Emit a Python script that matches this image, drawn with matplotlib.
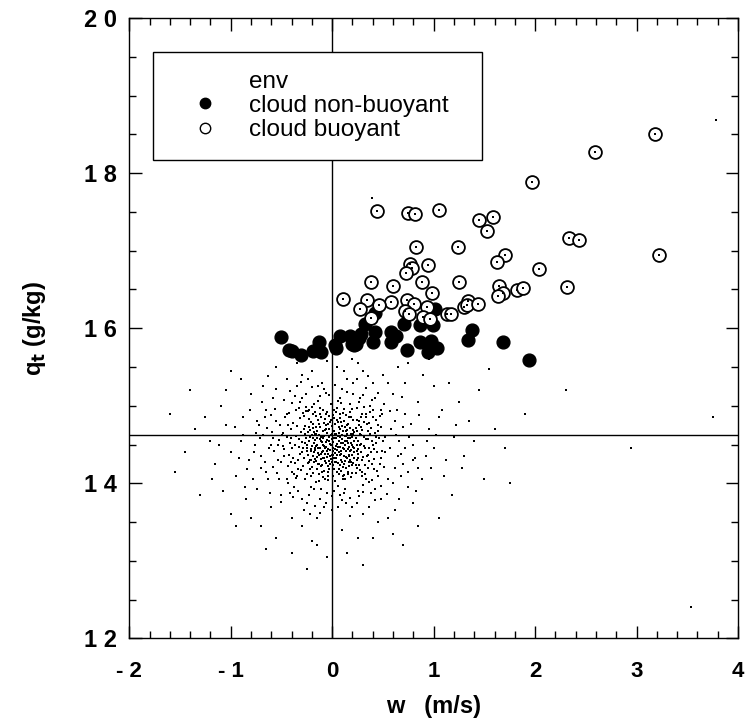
import matplotlib
matplotlib.use('Agg')
import matplotlib.pyplot as plt
from matplotlib.lines import Line2D
from matplotlib.ticker import MultipleLocator

plt.rcParams['font.family'] = ['Liberation Sans', 'DejaVu Sans']

# cloud points, non-buoyant (filled) : w (m/s), qt (g/kg)
nb_w = [-0.50, -0.43, -0.40, -0.31, -0.19, -0.13, -0.11, 0.03, 0.04, 0.08,
        0.18, 0.20, 0.23, 0.26, 0.22, 0.28, 0.32, 0.42, 0.42, 0.40,
        0.58, 0.63, 0.58, 0.71, 0.74, 0.87, 0.99, 0.87, 0.97, 0.94,
        1.03, 1.01, 1.38, 1.34, 1.68, 1.94]
nb_q = [15.89, 15.72, 15.71, 15.65, 15.71, 15.82, 15.69, 15.79, 15.74, 15.90,
        15.90, 15.80, 15.80, 15.87, 15.78, 15.93, 16.05, 16.20, 15.95, 15.82,
        15.95, 15.90, 15.82, 16.05, 15.72, 16.04, 16.04, 15.82, 15.83, 15.69,
        15.74, 16.25, 15.98, 15.85, 15.82, 15.59]

# cloud points, buoyant (open)
b_w = [3.18, 2.59, 1.97, 0.44, 0.75, 0.82, 1.05, 1.45, 1.59, 1.53,
       2.33, 2.43, 3.22, 0.83, 1.24, 0.77, 0.79, 0.94, 0.73, 1.70,
       1.62, 2.04, 0.38, 0.60, 0.89, 1.25, 0.98, 1.64, 1.68, 1.63,
       1.82, 1.88, 2.31, 0.11, 0.34, 0.58, 0.74, 0.81, 0.46, 0.27,
       0.38, 0.72, 0.76, 0.93, 0.90, 0.96, 1.13, 1.17, 1.30, 1.34,
       1.33, 1.44]
b_q = [18.51, 18.27, 17.89, 17.51, 17.49, 17.47, 17.53, 17.39, 17.44, 17.26,
       17.17, 17.14, 16.94, 17.05, 17.05, 16.83, 16.78, 16.82, 16.71, 16.94,
       16.86, 16.76, 16.60, 16.54, 16.60, 16.60, 16.46, 16.55, 16.45, 16.42,
       16.49, 16.52, 16.53, 16.38, 16.37, 16.34, 16.37, 16.31, 16.30, 16.25,
       16.13, 16.22, 16.18, 16.27, 16.15, 16.12, 16.18, 16.18, 16.28, 16.35,
       16.30, 16.31]

# environment points, "w,q" pairs
env_txt = """
-0.02,14.51 0.05,14.43 -0.11,14.60 0.13,14.55 -0.07,14.38 0.21,14.47 -0.18,14.52 0.02,14.68
0.09,14.30 -0.25,14.41 0.28,14.62 -0.04,14.22 0.16,14.77 -0.14,14.81 0.34,14.35 -0.31,14.66
0.07,14.12 -0.09,14.95 0.24,14.20 -0.22,14.18 0.39,14.55 -0.37,14.49 0.01,14.88 0.18,14.92
-0.28,14.87 0.11,14.05 -0.16,14.02 0.31,14.79 -0.41,14.28 0.44,14.40 -0.06,14.70 0.04,14.58
-0.12,14.46 0.08,14.36 0.15,14.64 -0.19,14.71 0.22,14.33 -0.03,14.29 0.27,14.50 -0.33,14.57
0.12,14.25 -0.08,14.16 0.35,14.68 -0.24,14.26 0.19,14.08 -0.45,14.60 0.47,14.25 -0.01,15.02
0.06,13.96 -0.20,14.99 0.26,15.05 -0.35,14.10 0.40,14.85 -0.15,14.34 0.03,14.44 0.10,14.74
-0.05,14.56 0.14,14.41 -0.27,14.74 0.32,14.12 0.00,14.36 -0.10,14.24 0.20,14.60 -0.30,14.40
0.36,14.45 -0.39,14.78 0.05,14.82 -0.17,14.63 0.23,14.71 -0.23,14.55 0.29,14.30 -0.13,14.12
0.09,14.52 -0.06,14.47 0.17,14.37 -0.01,14.62 0.12,14.96 -0.26,14.93 0.42,14.65 -0.43,14.37
0.30,13.98 -0.21,13.95 0.02,14.18 -0.36,14.95 0.37,15.00 0.08,15.10 -0.12,15.12 0.25,13.90
-0.05,13.88 0.16,14.15 -0.29,14.22 0.45,14.75 -0.48,14.48 0.50,14.55 0.33,14.90 -0.40,14.15
0.13,13.93 -0.32,15.05 0.21,15.15 -0.09,14.42 0.07,14.65 -0.15,14.50 0.11,14.45 0.04,14.32
-0.18,14.40 0.19,14.52 -0.04,14.77 0.24,14.82 -0.22,14.30 0.28,14.40 -0.11,14.85 0.01,14.10
0.35,14.20 -0.34,14.30 0.14,14.20 -0.07,14.06
-0.62,14.45 0.65,14.35 -0.55,14.80 0.58,14.70 -0.70,14.20 0.72,14.90 -0.52,14.05 0.55,14.05
-0.58,15.10 0.60,15.15 -0.35,15.25 0.40,15.30 -0.10,15.30 0.15,15.35 -0.25,13.75 0.20,13.70
-0.50,13.85 0.48,13.80 0.00,13.65 -0.15,13.55 0.30,13.60 -0.75,14.65 0.80,14.50 -0.82,14.30
0.85,14.20 -0.65,14.95 0.68,14.10 -0.45,15.35 0.50,15.40 -0.20,15.45 0.05,15.50 0.30,15.45
-0.60,13.70 0.62,13.65 -0.40,13.55 0.45,13.50 -0.90,14.55 0.95,14.70 -0.88,14.85 0.92,14.35
-0.78,14.05 0.75,13.95 -0.30,13.45 0.10,13.40 -0.68,15.25 0.72,15.30 0.25,15.55 -0.05,15.58
-0.48,14.65 0.52,14.60 -0.53,14.30 0.57,14.45 -0.45,14.90 0.48,14.95 -0.58,14.58 0.62,14.80
-0.38,13.95 0.42,13.92 -0.12,13.80 0.10,13.78 -0.72,14.75 0.70,14.25 1.00,14.45 -1.00,14.40
1.05,14.85 -0.95,14.10 0.85,15.05 -0.80,15.15 1.10,14.10 -1.05,14.75 0.65,15.50 0.90,15.40
1.20,14.60 -1.15,14.25 0.40,13.30 -0.20,13.25 0.80,13.75 -0.85,13.80 1.25,15.05 1.35,14.80
1.15,15.30 -0.55,15.50 -1.10,15.00 -1.20,14.55 0.60,13.35 -0.70,13.45
-1.35,14.70 -1.55,14.15 -1.30,13.85 -0.95,13.45 -0.40,13.10 0.15,13.10 0.70,13.20 1.30,14.35
1.45,15.20 1.50,14.05 1.75,14.00 1.55,15.47 0.39,17.68 3.54,12.40 3.78,18.68 3.75,14.85
2.95,14.45 1.90,14.90 -1.60,14.90 -0.25,12.90 1.05,13.55 -1.40,15.20 2.30,15.20 0.95,15.60
-0.38,14.12 -0.33,14.47 -0.29,14.91 -0.27,14.05 -0.26,14.58 -0.24,14.66 -0.23,14.83 -0.21,14.44
-0.20,14.21 -0.19,14.90 -0.18,14.27 -0.17,14.56 -0.16,14.73 -0.15,14.18 -0.14,14.39 -0.13,14.62
-0.12,14.97 -0.11,14.31 -0.10,14.53 -0.09,14.08 -0.08,14.78 -0.07,14.45 -0.06,14.26 -0.05,14.65
-0.04,14.14 -0.03,14.87 -0.02,14.35 -0.01,14.49 0.00,14.74 0.01,14.23 0.02,14.58 0.03,14.03
0.04,14.92 0.05,14.37 0.06,14.61 0.07,14.19 0.08,14.84 0.09,14.42 0.10,14.28 0.11,14.67
0.12,14.11 0.13,14.50 0.14,14.88 0.15,14.33 0.16,14.59 0.17,14.22 0.18,14.71 0.19,14.43
0.20,14.96 0.21,14.26 0.22,14.54 0.23,14.13 0.24,14.68 0.25,14.38 0.26,14.80 0.27,14.17
0.28,14.51 0.29,14.89 0.30,14.34 0.31,14.60 0.32,14.45 0.33,14.06 0.34,14.76 0.36,14.29
0.37,14.63 0.38,14.40 0.40,14.94 0.41,14.18 0.43,14.52 -0.41,14.70 -0.42,14.52 -0.44,14.22
-0.46,14.85 -0.47,14.35 -0.49,14.62
-0.36,14.61 -0.34,14.19 -0.32,14.84 -0.30,14.53 -0.28,14.33 -0.26,14.99 -0.25,14.46 -0.22,14.69
-0.21,14.09 -0.19,14.35 -0.17,14.92 -0.16,14.48 -0.14,14.25 -0.13,14.76 -0.12,14.57 -0.10,14.14
-0.09,14.67 -0.08,14.32 -0.06,14.89 -0.05,14.41 -0.04,14.04 -0.03,14.55 -0.02,14.79 0.00,14.27
0.01,14.41 0.02,14.94 0.03,14.63 0.05,14.15 0.06,14.47 0.07,14.73 0.08,14.24 0.10,14.57
0.11,14.91 0.12,14.35 0.13,14.06 0.15,14.69 0.16,14.44 0.17,14.85 0.18,14.30 0.20,14.13
0.21,14.64 0.22,14.40 0.24,14.97 0.25,14.55 0.26,14.23 0.28,14.72 0.29,14.09 0.31,14.48
0.33,14.86 0.35,14.57 0.36,14.02 0.38,14.71 0.39,14.25 0.41,14.44 0.43,14.81 0.45,14.10
0.46,14.58 0.48,14.33 0.49,14.90 -0.50,14.27 -0.51,14.75 -0.53,14.50 -0.54,14.13 -0.56,14.96
-0.57,14.41 -0.59,14.66
-0.24,14.37 -0.22,14.60 -0.20,14.48 -0.18,14.66 -0.17,14.31 -0.15,14.58 -0.14,14.45 -0.12,14.72
-0.11,14.22 -0.10,14.40 -0.08,14.61 -0.07,14.29 -0.06,14.53 -0.04,14.44 -0.03,14.70 -0.02,14.25
0.00,14.57 0.01,14.46 0.02,14.33 0.04,14.64 0.05,14.51 0.06,14.26 0.08,14.70 0.09,14.38
0.10,14.62 0.12,14.44 0.13,14.29 0.14,14.68 0.16,14.52 0.17,14.35 0.19,14.63 0.20,14.24
0.22,14.46 0.23,14.58 0.25,14.33 -0.23,14.27 -0.19,14.77 -0.13,14.36 -0.09,14.50 -0.05,14.34
-0.01,14.81 0.03,14.39 0.07,14.55 0.11,14.21 0.15,14.75 0.18,14.41 0.21,14.69 0.24,14.50
-0.16,14.64 -0.06,14.75 0.04,14.48 0.14,14.34 -0.21,14.41 0.09,14.79 -0.11,14.55 0.19,14.27
-0.88,14.62 -0.84,14.18 -0.81,14.95 -0.77,14.40 -0.74,13.92 -0.71,14.58 -0.69,15.05 -0.66,14.27
-0.64,14.71 -0.61,13.88 -0.60,14.88 -0.58,14.21 -0.55,15.22 -0.52,14.56 -0.50,13.76 -0.47,15.08
-0.44,14.00 -0.42,15.19 -0.39,13.82 -0.37,15.12 -0.34,13.90 -0.31,15.31 -0.28,13.66 -0.26,15.15
-0.23,13.85 -0.20,15.24 -0.17,13.71 -0.14,15.06 -0.11,13.93 -0.08,15.21 -0.06,13.74 -0.03,15.14
0.00,13.84 0.03,15.27 0.06,13.69 0.09,15.04 0.12,13.87 0.15,15.18 0.18,13.81 0.21,15.29
0.24,13.75 0.27,15.10 0.30,13.89 0.33,15.23 0.36,13.70 0.39,15.07 0.42,13.78 0.45,15.17
0.48,13.96 0.51,15.02 0.54,13.86 0.57,14.93 0.60,14.00 0.63,14.62 0.66,13.80 0.69,15.11
0.72,14.46 0.75,14.15 0.78,14.77 0.82,14.33 0.86,14.88 0.89,14.05 0.93,14.55 -0.92,14.33
-0.96,14.73 0.97,14.20 1.02,14.62 -0.86,13.95 0.83,13.90 -0.63,15.38 0.55,15.30 0.35,15.38
-0.30,15.40 0.12,15.45
-1.25,14.85 -1.18,14.05 -1.12,14.50 -1.08,13.90 -1.05,15.20 -1.00,13.60 1.08,14.95 1.12,14.30
1.18,13.85 1.22,14.75 1.28,14.20 1.40,14.55 1.60,14.70 -0.80,13.55 -0.55,13.30 -0.15,13.20
0.25,13.30 0.55,13.55 0.85,13.45 -0.90,15.35 -0.35,15.55 0.20,15.60 0.75,15.55 1.00,15.25
-1.45,14.40 1.70,14.45 -0.65,13.15 0.30,12.95 -1.00,15.45 -0.05,13.05
-0.47,14.44 -0.43,14.91 -0.39,14.33 -0.35,14.74 -0.31,14.17 -0.27,14.52 -0.23,14.95 -0.19,14.13
-0.15,14.67 -0.11,14.38 -0.07,14.83 -0.03,14.19 0.01,14.53 0.05,14.97 0.09,14.16 0.13,14.61
0.17,14.27 0.21,14.81 0.25,14.44 0.29,14.14 0.33,14.57 0.37,14.92 0.41,14.31 0.45,14.68
0.49,14.42 -0.45,14.06 -0.41,14.58 -0.37,14.26 -0.33,14.97 -0.29,14.45 -0.25,14.12 -0.21,14.79
-0.17,14.43 -0.13,14.03 -0.09,14.58 -0.05,14.92 -0.01,14.31 0.03,14.76 0.07,14.40 0.11,14.09
0.15,14.54 0.19,14.86 0.23,14.24 0.27,14.63 0.31,14.98 0.35,14.37 0.39,14.04 0.43,14.60
0.47,14.87 0.51,14.21 -0.44,14.75 -0.40,14.45 -0.36,14.07 -0.32,14.38 -0.28,14.70 -0.24,14.93
-0.20,14.62 -0.16,14.29 -0.12,14.90 -0.08,14.48 -0.04,14.10 0.00,14.64 0.04,14.28 0.08,14.60
0.12,14.80 0.16,14.12 0.20,14.50 0.24,14.30 0.28,14.86 0.32,14.24 0.36,14.78 0.40,14.50
0.44,14.16 0.48,14.72 0.52,14.40
-0.30,13.80 -0.18,13.92 -0.08,13.70 0.02,13.90 0.14,13.74 0.26,13.83 0.38,13.88 -0.42,13.88
-0.12,13.62 0.18,13.58 0.08,13.85 -0.22,13.60 -0.30,15.10 -0.18,15.02 -0.06,15.16 0.06,15.06
0.18,15.02 0.30,15.14 -0.40,15.03 0.42,15.10 -0.14,15.25 0.10,15.22 0.24,15.34 -0.24,15.35
-0.70,14.35 -0.66,14.85 -0.63,14.05 -0.60,14.50 -0.68,14.62 0.62,14.20 0.66,14.55 0.70,14.72
0.64,14.95 0.68,14.38 0.76,14.60 -0.76,14.50 -0.74,14.80 0.80,14.30 -0.65,14.15
-0.27,14.64 -0.21,14.30 -0.16,14.87 -0.10,14.61 -0.04,14.38 0.02,14.84 0.08,14.47 0.13,14.73
0.18,14.58 0.24,14.41 0.29,14.69 -0.25,14.50 -0.19,14.58 -0.13,14.25 -0.07,14.69 -0.02,14.43
0.03,14.27 0.08,14.90 0.14,14.61 0.20,14.36 0.26,14.75 -0.23,14.73 -0.17,14.46 -0.09,14.33
-0.03,14.60 0.01,14.37 0.06,14.79 0.11,14.52 0.17,14.47 0.22,14.66
"""
env_pts = [tuple(float(v) for v in p.split(',')) for p in env_txt.split()]
env_w = [p[0] for p in env_pts]
env_q = [p[1] for p in env_pts]

w_mean = 0.0
q_mean = 14.62

fig = plt.figure(figsize=(7.47, 7.27), dpi=100)
ax = fig.add_axes([0.173, 0.122, 0.815, 0.853])

ax.axvline(w_mean, color='black', lw=1.0, zorder=1)
ax.axhline(q_mean, color='black', lw=1.0, zorder=1)

ax.scatter(env_w, env_q, s=3.5, marker='s', color='black', linewidths=0, zorder=2)
ax.scatter(nb_w, nb_q, s=85, marker='o', color='black', zorder=3)
ax.scatter(b_w, b_q, s=85, marker='o', facecolor='white', edgecolor='black',
           linewidths=1.3, zorder=4)
ax.scatter(b_w, b_q, s=0.8, marker='s', color='black', linewidths=0, zorder=4)

ax.set_xlim(-2, 4)
ax.set_ylim(12, 20)
ax.xaxis.set_major_locator(MultipleLocator(1))
ax.xaxis.set_minor_locator(MultipleLocator(0.2))
ax.yaxis.set_major_locator(MultipleLocator(2))
ax.yaxis.set_minor_locator(MultipleLocator(0.5))
ax.tick_params(which='both', direction='in', top=True, right=True, width=1.0)
ax.tick_params(which='major', length=9)
ax.tick_params(which='minor', length=5)
ax.tick_params(axis='x', pad=16)
ax.tick_params(axis='y', pad=9)

ax.set_xticks(range(-2, 5))
ax.set_xticklabels([('- ' + str(-v)) if v < 0 else str(v) for v in range(-2, 5)],
                   fontsize=16, fontweight='bold')
ax.set_yticks([12, 14, 16, 18, 20])
ax.set_yticklabels(['1 2', '1 4', '1 6', '1 8', '2 0'], fontsize=17, fontweight='heavy')

for s in ax.spines.values():
    s.set_linewidth(1.0)

ax.set_xlabel('w   (m/s)', fontsize=17, fontweight='bold', labelpad=10)
ax.set_ylabel(r'q$_{\mathbf{t}}$ (g/kg)', fontsize=17, fontweight='bold', labelpad=26)

handles = [
    Line2D([], [], ls='', marker='s', ms=0, color='white'),
    Line2D([], [], ls='', marker='o', ms=7.5, color='black'),
    Line2D([], [], ls='', marker='o', ms=7.5, mfc='white', mec='black', mew=1),
]
leg = ax.legend(handles, ['env', 'cloud non-buoyant', 'cloud buoyant'],
                loc='upper left', bbox_to_anchor=(0.039, 0.77, 0.54, 0.175),
                mode='expand', borderaxespad=0,
                fontsize=17.5, frameon=True, fancybox=False, edgecolor='black',
                framealpha=1, labelspacing=0.1, handletextpad=0.4,
                borderpad=0.75, handlelength=2.8)
leg.get_frame().set_linewidth(1.0)
leg.set_zorder(5)

fig.savefig('out.png', dpi=100)
